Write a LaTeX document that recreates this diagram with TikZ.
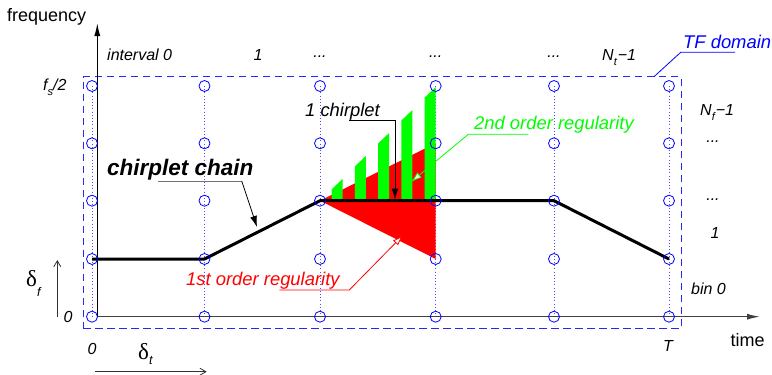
\documentclass[tikz,border=0pt]{standalone}
\usepackage{fontspec}
\setmainfont{Liberation Sans}
\newfontfamily\greekfont{Liberation Serif}
\usetikzlibrary{arrows.meta}
\definecolor{tfblue}{RGB}{0,0,255}
\definecolor{brightgreen}{RGB}{0,255,0}
\definecolor{brightred}{RGB}{255,0,0}
\begin{document}
\begin{tikzpicture}[x=1pt,y=-1pt,
  gridpt/.style={circle,draw=tfblue,line width=0.8pt,minimum size=11pt,inner sep=0pt},
  gridline/.style={draw=tfblue!70,line width=0.8pt,dash pattern=on 0.8pt off 2.4pt},
  domainbox/.style={draw=tfblue!85,line width=1.1pt,dash pattern=on 7.5pt off 4.5pt,inner sep=0pt},
  txt/.style={inner sep=0pt,anchor=base west},
  ctxt/.style={inner sep=0pt,anchor=base},
  axlbl/.style={font=\fontsize{18}{18}\selectfont},
  itlbl/.style={font=\fontsize{16}{16}\selectfont\itshape},
  calllbl/.style={font=\fontsize{18.4}{18.4}\selectfont\itshape},
  callout/.style={line width=0.8pt},
  tipfill/.style={-{Latex[length=11pt,width=7pt]}},
  tipopen/.style={-{Latex[length=11pt,width=7pt,fill=white]}},
  axisarrow/.style={line width=1.2pt,-{Latex[length=13pt,width=6pt]}},
  deltaarrow/.style={line width=0.8pt,draw=black!80,-{Straight Barb[length=6pt,width=7pt]}},
  chain/.style={line width=3pt,line join=round}]
\useasboundingbox (0,0) rectangle (772,375);

% grid coordinates
\foreach \x [count=\i] in {92,204.5,320,435.7,554,669}{
  \foreach \y [count=\j] in {316.7,259,200.7,143.3,86}{
    \coordinate (p-\i-\j) at (\x,\y);
  }
  \draw[gridline] (p-\i-5) -- (p-\i-1);
}

% TF domain
\node[domainbox,minimum width=597.7pt,minimum height=251.6pt] (dom) at (382.2,202.5) {};

% first order regularity (red)
\fill[brightred] (p-3-3) -- (p-4-4) -- (p-4-2) -- cycle;

% second order regularity (green bars)
\foreach \k in {1,...,5}{
  \pgfmathsetmacro{\R}{435.5-23.2*(5-\k)}
  \pgfmathsetmacro{\L}{\R-11}
  \pgfmathsetmacro{\TR}{201.7-22.9*\k}
  \pgfmathsetmacro{\TL}{\TR+10.5}
  \fill[brightgreen] (\L,200.7) -- (\L,\TL) -- (\R,\TR) -- (\R,200.7) -- cycle;
}

% axes
\coordinate (O) at (97.3,316.7);
\coordinate (ytip) at (97.3,23);
\coordinate (xtip) at (760,316.7);
\draw[axisarrow,draw=black] (O) -- (ytip);
\draw[axisarrow,draw=black!75] (O) -- (xtip);

% chirplet chain
\draw[chain] (p-1-2) -- (p-2-2) -- (p-3-3) -- (p-5-3) -- (p-6-2);

% grid circles
\foreach \i in {1,...,6}{
  \foreach \j in {1,...,5}{
    \node[gridpt] (g-\i-\j) at (p-\i-\j) {};
  }
}

% axis labels
\node[txt,axlbl] (freq) at (7,21.7) {frequency};
\node[txt,axlbl] (time) at (730.5,346) {time};

% top labels
\node[txt,itlbl] (int0) at (107,60) {interval 0};
\node[ctxt,itlbl] (int1) at (258,60) {1};
\node[ctxt,itlbl] (intd1) at (320,57.5) {...};
\node[ctxt,itlbl] (intd2) at (435.7,57.5) {...};
\node[ctxt,itlbl] (intd3) at (554,57.5) {...};
\node[txt,itlbl] (intN) at (602,60) {N\raisebox{-5pt}{\fontsize{11}{11}\selectfont t}\kern1pt−1};

% right labels
\node[txt,itlbl] (binN) at (700,115) {N\raisebox{-5pt}{\fontsize{11}{11}\selectfont f}\kern1pt−1};
\node[ctxt,itlbl] (bind1) at (713,142) {...};
\node[ctxt,itlbl] (bind2) at (713,200) {...};
\node[ctxt,itlbl] (bin1) at (715,238.3) {1};
\node[txt,itlbl] (bin0) at (691,294) {bin 0};

% left / bottom labels
\node[txt,itlbl] (fs) at (43,90.7) {f\raisebox{-4.3pt}{\fontsize{11}{11}\selectfont s}/2};
\node[ctxt,itlbl] (zf) at (68,322.7) {0};
\node[ctxt,itlbl] (zt) at (92,354.3) {0};
\node[ctxt,itlbl] (Tlbl) at (668,351.7) {T};

% delta labels and arrows
\node[txt] (df) at (26,286.7) {\fontsize{23}{23}\greekfont δ\raisebox{-10pt}{\fontsize{12.5}{12.5}\selectfont\rmfamily\itshape f}};
\node[txt] (dt) at (138,359.3) {\fontsize{23}{23}\greekfont δ\raisebox{-5pt}{\fontsize{12.5}{12.5}\selectfont\rmfamily\itshape t}};
\coordinate (dfa) at (57.3,316.7);
\coordinate (dfb) at (57.3,260);
\coordinate (dta) at (95,371.7);
\coordinate (dtb) at (206.7,371.7);
\draw[deltaarrow] (dfa) -- (dfb);
\draw[deltaarrow] (dta) -- (dtb);

% callout: chirplet chain
\node[txt,font=\fontsize{22.5}{22.5}\selectfont\bfseries\itshape] (cclbl) at (107,175) {chirplet chain};
\coordinate (cc-a) at (158,181);
\coordinate (cc-b) at (241.7,181);
\coordinate (cc-t) at (257,227);
\draw[callout,draw=black!55] (cc-a) -- (cc-b);
\draw[callout,tipfill] (cc-b) -- (cc-t);

% callout: 1 chirplet
\node[txt,calllbl] (onelbl) at (305,116) {1 chirplet};
\coordinate (oc-a) at (349.3,120);
\coordinate (oc-b) at (395,120);
\coordinate (oc-t) at (395,199.5);
\draw[callout,tipfill] (oc-a) -- (oc-b) -- (oc-t);

% callout: 2nd order regularity
\node[txt,calllbl,text=brightgreen] (seclbl) at (474,129.3) {2nd order regularity};
\coordinate (sc-a) at (528.3,134.3);
\coordinate (sc-b) at (468.3,134.3);
\coordinate (sc-t) at (411,182);
\draw[callout,tipopen,draw=brightgreen] (sc-a) -- (sc-b) -- (sc-t);

% callout: 1st order regularity
\node[txt,calllbl,text=brightred] (firlbl) at (186,285) {1st order regularity};
\coordinate (fc-a) at (279.3,290);
\coordinate (fc-b) at (349.3,290);
\coordinate (fc-t) at (403.3,235);
\draw[callout,tipopen,draw=brightred] (fc-a) -- (fc-b) -- (fc-t);

% callout: TF domain
\node[txt,calllbl,text=tfblue] (tflbl) at (683,48.3) {TF domain};
\coordinate (tc-a) at (735,52.3);
\coordinate (tc-b) at (680.7,52.3);
\coordinate (tc-t) at (654,76.7);
\draw[callout,draw=tfblue] (tc-a) -- (tc-b) -- (tc-t);
\end{tikzpicture}
\end{document}
